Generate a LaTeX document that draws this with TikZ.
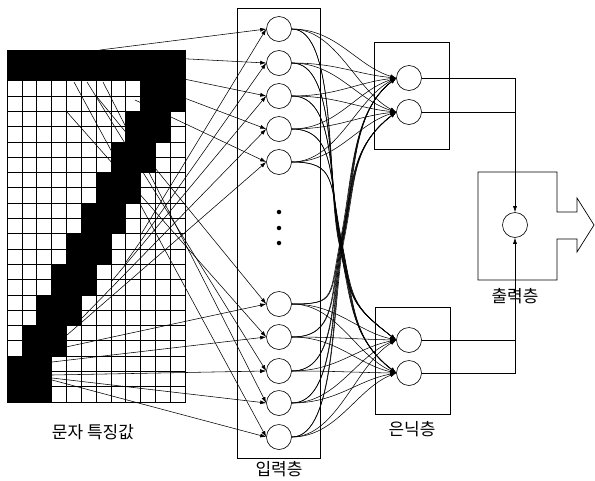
\documentclass[tikz,border=0pt]{standalone}
\usepackage{fontspec}
\newfontfamily\kr{Noto Sans CJK KR}
\usetikzlibrary{arrows.meta}
\begin{document}
\begin{tikzpicture}[x=1pt,y=-1pt,
  neuron/.style={circle,draw,fill=white,minimum size=25pt,inner sep=0pt,line width=0.6pt},
  conn/.style={line width=0.55pt,-{Latex[length=6pt,width=4pt]}},
  wire/.style={line width=0.6pt},
  layerbox/.style={draw,line width=0.7pt},
  gridline/.style={line width=0.6pt},
  dotnode/.style={circle,fill,inner sep=0pt,minimum size=4.5pt},
  lbl/.style={font=\kr\fontsize{17}{17}\selectfont,inner sep=0pt}]
\useasboundingbox (0,0) rectangle (595,480);
% ---- character grid
\fill[white] (7,50) rectangle (185,402);
\fill (7,50) rectangle (185,80.61);
\foreach \k in {1,...,10}{
  \pgfmathsetmacro\xa{7+(10-\k)*14.8333}
  \pgfmathsetmacro\xb{\xa+3*14.8333}
  \pgfmathsetmacro\ya{50+2*\k*15.3043}
  \pgfmathsetmacro\yb{\k==10 ? 402 : \ya+2*15.3043}
  \fill (\xa,\ya) rectangle (\xb,\yb);
}
\foreach \c in {0,...,12} \draw[gridline] ({7+\c*14.8333},50) -- ({7+\c*14.8333},402);
\foreach \r in {0,...,23} \draw[gridline] (7,{50+\r*15.3043}) -- (185,{50+\r*15.3043});
\draw[line width=0.9pt] (7,50) rectangle (185,402);
% ---- layer boxes
\draw[layerbox] (237,8) rectangle (320,458);
\draw[layerbox] (374,42) rectangle (449,149);
\draw[layerbox] (375,307) rectangle (450,414);
\draw[layerbox] (478,172) -- (557,172) -- (557,212) -- (577,212) -- (577,198) -- (594,225)
  -- (577,252) -- (577,239) -- (557,239) -- (557,280) -- (478,280) -- cycle;
% ---- neurons
\foreach \i/\y in {1/29,2/63,3/96,4/129,5/162,6/304,7/337,8/371,9/403,10/437}
  \node[neuron] (i\i) at (279,\y) {};
\foreach \j/\y in {1/78,2/112,3/340,4/373}
  \node[neuron] (h\j) at (409,\y) {};
\node[neuron] (o) at (515,225) {};
\node[dotnode] (d1) at (279,212) {};
\node[dotnode] (d2) at (279,228) {};
\node[dotnode] (d3) at (279,243) {};
% ---- grid to input layer
\foreach \i/\ax/\ay/\bx/\by in {1/100/50/140/236, 2/150/57/126/262, 3/150/72/111/282,
   4/150/85/82/318, 5/135/100/67/335, 6/52/350/97/97, 7/52/362/67/112,
   8/52/375/87/82, 9/52/378/103/82, 10/52/380/74/82}{
  \coordinate (sa\i) at (\ax,\ay);
  \coordinate (sb\i) at (\bx,\by);
  \draw[conn] (sa\i) -- (i\i.west);
  \draw[conn] (sb\i) -- (i\i.west);
}
% ---- input to hidden layer
\foreach \i/\ys in {1/29,2/63,3/96,4/129,5/162,6/304,7/337,8/371,9/403,10/437}{
  \foreach \j/\ye in {1/78,2/112,3/340,4/373}{
    \pgfmathtruncatemacro\isnear{((\i<6) && (\j<3)) || ((\i>5) && (\j>2)) ? 1 : 0}
    \ifnum\isnear=1
      \pgfmathsetmacro\dd{(\ys-\ye)*0.25}
      \draw[conn] (i\i.east) .. controls +(45,0) and +(-40,\dd) .. (h\j.west);
    \else
      \pgfmathsetmacro\sg{\ye>\ys ? 1 : -1}
      \pgfmathsetmacro\px{336+0.7*\i+0.6*\j}
      \pgfmathsetmacro\py{240+(\j-2.5)*1.5}
      \coordinate (p\i-\j) at (\px,\py);
      \draw[conn] (i\i.east) .. controls +(45,0) and +(-12,-60*\sg) .. (p\i-\j)
        .. controls +(12,60*\sg) and +(-45,-35*\sg) .. (h\j.west);
    \fi
  }
}
% ---- hidden to output
\draw[wire,-{Latex[length=6pt,width=4pt]}] (h1.east) -| (o.north);
\draw[wire] (h2.east) -- (h2.east -| o.north);
\draw[wire,-{Latex[length=6pt,width=4pt]}] (h3.east) -| (o.south);
\draw[wire] (h4.east) -- (h4.east -| o.south) -- (h3.east -| o.south);
% ---- labels
\node[lbl] (t1) at (93,432) {문자 특징값};
\node[lbl] (t2) at (279,469) {입력층};
\node[lbl] (t3) at (412,429) {은닉층};
\node[lbl] (t4) at (515,296) {출력층};
\end{tikzpicture}
\end{document}
